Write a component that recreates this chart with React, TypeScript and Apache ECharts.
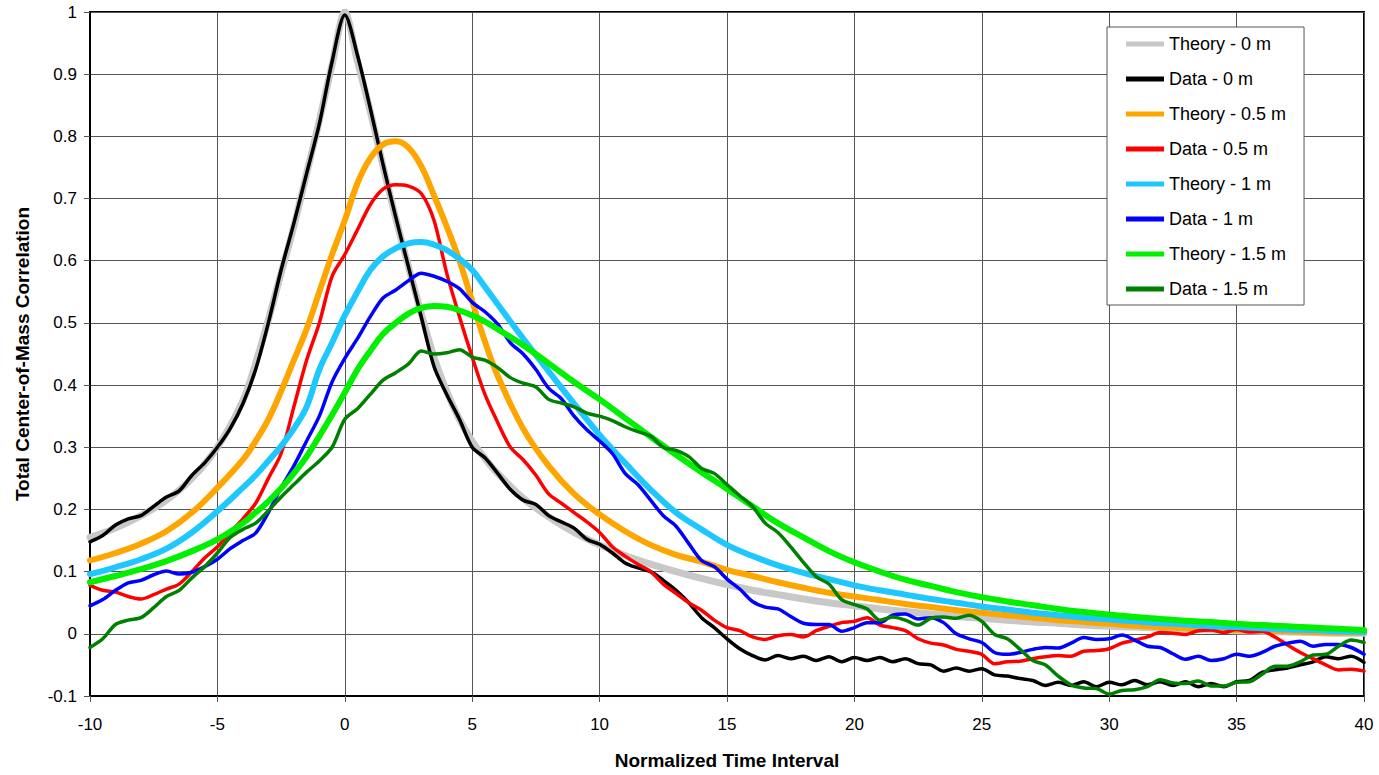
import React, { useEffect, useRef } from "react";
import * as echarts from "echarts";

// x positions for theory curves
const theoryX = [
  -10, -9, -8, -7, -6, -5, -4, -3.5, -3, -2.5, -2, -1.5, -1, -0.5, 0, 0.5, 1, 1.5, 2, 2.5, 3, 3.5, 4, 4.5, 5, 5.5, 6,
  7, 8, 9, 10, 11, 12, 13, 14, 15, 16, 17, 18, 19, 20, 21, 22, 23, 24, 25, 26, 27, 28, 29, 30, 31, 32, 33, 34, 35, 36,
  37, 38, 39, 40,
];

const theory0 = [
  0.155, 0.17, 0.19, 0.215, 0.25, 0.3, 0.375, 0.435, 0.505, 0.58, 0.655, 0.74, 0.825, 0.915, 1.0, 0.92, 0.84, 0.752,
  0.668, 0.59, 0.515, 0.445, 0.39, 0.345, 0.31, 0.282, 0.258,
  0.218, 0.188, 0.163, 0.143, 0.126, 0.112, 0.1, 0.089, 0.079, 0.07, 0.063, 0.056, 0.05, 0.045, 0.04, 0.036, 0.032,
  0.028, 0.025, 0.022, 0.019, 0.017, 0.014, 0.012, 0.011, 0.009, 0.008, 0.006, 0.005, 0.004, 0.003, 0.002, 0.001, 0.001,
];

const theory05 = [
  0.118, 0.13, 0.145, 0.165, 0.195, 0.235, 0.28, 0.31, 0.345, 0.39, 0.44, 0.49, 0.55, 0.61, 0.665, 0.725, 0.765, 0.787,
  0.792, 0.782, 0.752, 0.705, 0.655, 0.6, 0.535, 0.47, 0.415,
  0.33, 0.27, 0.225, 0.192, 0.165, 0.143, 0.127, 0.116, 0.103, 0.093, 0.083, 0.074, 0.066, 0.06, 0.054, 0.048, 0.043,
  0.038, 0.034, 0.03, 0.026, 0.022, 0.019, 0.016, 0.013, 0.011, 0.009, 0.008, 0.006, 0.005, 0.004, 0.003, 0.002, 0.002,
];

const theory1 = [
  0.096, 0.107, 0.12, 0.137, 0.163, 0.197, 0.235, 0.255, 0.278, 0.302, 0.33, 0.365, 0.425, 0.468, 0.512, 0.55, 0.585,
  0.607, 0.62, 0.628, 0.63, 0.626, 0.617, 0.603, 0.585, 0.558, 0.53,
  0.475, 0.422, 0.37, 0.32, 0.275, 0.232, 0.195, 0.168, 0.143, 0.125, 0.11, 0.098, 0.088, 0.078, 0.07, 0.063, 0.056,
  0.05, 0.044, 0.039, 0.034, 0.03, 0.026, 0.023, 0.02, 0.017, 0.015, 0.012, 0.011, 0.009, 0.007, 0.006, 0.004, 0.003,
];

const theory15 = [
  0.083, 0.093, 0.104, 0.117, 0.133, 0.152, 0.178, 0.195, 0.213, 0.234, 0.258, 0.285, 0.318, 0.352, 0.388, 0.425, 0.455,
  0.482, 0.5, 0.515, 0.524, 0.527, 0.526, 0.52, 0.512, 0.502, 0.49,
  0.464, 0.435, 0.405, 0.377, 0.347, 0.317, 0.288, 0.26, 0.233, 0.205, 0.178, 0.155, 0.133, 0.115, 0.1, 0.087, 0.077,
  0.067, 0.059, 0.052, 0.046, 0.04, 0.035, 0.031, 0.027, 0.024, 0.021, 0.019, 0.016, 0.014, 0.012, 0.01, 0.008, 0.006,
];

// x positions for measured data
const dataX = [
  -10, -9.5, -9, -8.5, -8, -7.5, -7, -6.5, -6, -5.5, -5, -4.5, -4, -3.5, -3, -2.5, -2, -1.5, -1, -0.5,
  0, 0.5, 1, 1.5, 2, 2.5, 3, 3.5, 4, 4.5, 5, 5.5, 6, 6.5, 7, 7.5, 8, 8.5, 9, 9.5,
  10, 10.5, 11, 11.5, 12, 12.5, 13, 13.5, 14, 14.5, 15, 15.5, 16, 16.5, 17, 17.5, 18, 18.5, 19, 19.5,
  20, 20.5, 21, 21.5, 22, 22.5, 23, 23.5, 24, 24.5, 25, 25.5, 26, 26.5, 27, 27.5, 28, 28.5, 29, 29.5,
  30, 30.5, 31, 31.5, 32, 32.5, 33, 33.5, 34, 34.5, 35, 35.5, 36, 36.5, 37, 37.5, 38, 38.5, 39, 39.5, 40,
];

const data0 = [
  0.148, 0.158, 0.175, 0.185, 0.19, 0.205, 0.22, 0.23, 0.255, 0.275, 0.3, 0.33, 0.37, 0.425, 0.5, 0.585, 0.66, 0.74, 0.82, 0.92,
  0.995, 0.93, 0.845, 0.755, 0.67, 0.59, 0.51, 0.43, 0.385, 0.345, 0.3, 0.283, 0.258, 0.232, 0.215, 0.208, 0.19, 0.18, 0.17, 0.152,
  0.144, 0.13, 0.114, 0.106, 0.1, 0.086, 0.07, 0.05, 0.026, 0.01, -0.008, -0.024, -0.035, -0.042, -0.035, -0.04, -0.036, -0.043, -0.037, -0.045,
  -0.038, -0.043, -0.038, -0.045, -0.04, -0.048, -0.05, -0.06, -0.055, -0.06, -0.056, -0.066, -0.068, -0.072, -0.075, -0.083, -0.078, -0.083, -0.077, -0.085,
  -0.078, -0.082, -0.075, -0.082, -0.077, -0.083, -0.077, -0.085, -0.08, -0.085, -0.077, -0.075, -0.062, -0.058, -0.055, -0.05, -0.045, -0.037, -0.04, -0.036, -0.046,
];

const data05 = [
  0.078, 0.07, 0.067, 0.06, 0.056, 0.063, 0.072, 0.08, 0.1, 0.122, 0.14, 0.163, 0.185, 0.21, 0.25, 0.29, 0.365, 0.44, 0.5, 0.575,
  0.61, 0.65, 0.69, 0.715, 0.722, 0.72, 0.708, 0.665, 0.58, 0.51, 0.445, 0.385, 0.34, 0.3, 0.28, 0.255, 0.225, 0.21, 0.195, 0.18,
  0.163, 0.14, 0.125, 0.112, 0.1, 0.08, 0.065, 0.05, 0.038, 0.022, 0.01, 0.005, -0.005, -0.009, -0.003, -0.001, -0.005, 0.005, 0.012, 0.018,
  0.02, 0.026, 0.014, 0.01, 0.005, -0.008, -0.015, -0.018, -0.025, -0.028, -0.033, -0.048, -0.045, -0.044, -0.04, -0.037, -0.035, -0.036, -0.028, -0.027,
  -0.024, -0.015, -0.01, -0.005, 0.002, 0.001, -0.001, 0.005, 0.006, 0.002, 0.007, 0.003, 0.004, -0.005, -0.018, -0.03, -0.04, -0.05, -0.058, -0.057, -0.06,
];

const data1 = [
  0.045, 0.055, 0.07, 0.082, 0.086, 0.095, 0.101, 0.096, 0.099, 0.108, 0.12, 0.137, 0.15, 0.162, 0.195, 0.235, 0.27, 0.31, 0.35, 0.405,
  0.443, 0.475, 0.51, 0.54, 0.553, 0.568, 0.58, 0.575, 0.567, 0.555, 0.533, 0.518, 0.498, 0.468, 0.45, 0.425, 0.395, 0.378, 0.35, 0.328,
  0.31, 0.29, 0.258, 0.24, 0.215, 0.19, 0.173, 0.145, 0.118, 0.108, 0.088, 0.072, 0.052, 0.043, 0.04, 0.028, 0.017, 0.015, 0.015, 0.004,
  0.01, 0.018, 0.018, 0.03, 0.032, 0.024, 0.026, 0.018, 0.0, -0.008, -0.014, -0.03, -0.033, -0.03, -0.025, -0.022, -0.023, -0.015, -0.006, -0.009,
  -0.008, -0.002, -0.01, -0.02, -0.022, -0.032, -0.041, -0.036, -0.043, -0.04, -0.033, -0.036, -0.03, -0.02, -0.015, -0.012, -0.02, -0.017, -0.017, -0.022, -0.033,
];

const data15 = [
  -0.022, -0.008, 0.015, 0.022, 0.026, 0.042, 0.06, 0.07, 0.09, 0.108, 0.13, 0.155, 0.168, 0.178, 0.198, 0.22, 0.24, 0.26, 0.278, 0.3,
  0.345, 0.362, 0.385, 0.408, 0.42, 0.434, 0.455, 0.45, 0.452, 0.457, 0.445, 0.44, 0.428, 0.412, 0.403, 0.397, 0.377, 0.371, 0.365, 0.355,
  0.35, 0.343, 0.333, 0.325, 0.318, 0.3, 0.295, 0.285, 0.266, 0.258, 0.24, 0.222, 0.205, 0.178, 0.163, 0.14, 0.115, 0.092, 0.08, 0.055,
  0.047, 0.04, 0.022, 0.027, 0.022, 0.014, 0.025, 0.027, 0.025, 0.03, 0.02, -0.001, -0.008, -0.025, -0.043, -0.05, -0.068, -0.082, -0.087, -0.088,
  -0.097, -0.091, -0.09, -0.085, -0.074, -0.079, -0.08, -0.076, -0.084, -0.084, -0.078, -0.077, -0.065, -0.052, -0.052, -0.045, -0.034, -0.033, -0.02, -0.01, -0.014,
];

const xTicks = { min: -10, max: 40, interval: 5 };
const yTicks = { min: -0.1, max: 1, interval: 0.1 };

const FONT = "'Liberation Sans', Arial, Helvetica, sans-serif";

function zip(xs: number[], ys: number[]) {
  return xs.map((x, i) => [x, ys[i]]);
}

export default function App() {
  const ref = useRef<HTMLDivElement>(null);
  useEffect(() => {
    if (!ref.current) return;
    const chart = echarts.init(ref.current, undefined, { renderer: "svg" });
    const mk = (name: string, xs: number[], ys: number[], color: string, width: number, smooth: number) => ({
      name,
      type: "line",
      data: zip(xs, ys),
      showSymbol: false,
      symbol: "none",
      smooth,
      lineStyle: { color, width, cap: "round", join: "round" },
      itemStyle: { color },
      emphasis: { disabled: true },
    });
    const legendNames = [
      "Theory - 0 m",
      "Data - 0 m",
      "Theory - 0.5 m",
      "Data - 0.5 m",
      "Theory - 1 m",
      "Data - 1 m",
      "Theory - 1.5 m",
      "Data - 1.5 m",
    ];
    chart.setOption({
      animation: false,
      backgroundColor: "#ffffff",
      textStyle: { fontFamily: FONT },
      grid: {
        left: 90,
        right: 15,
        top: 12,
        bottom: 78,
        show: true,
        borderColor: "#000",
        borderWidth: 2,
        backgroundColor: "transparent",
      },
      legend: {
        orient: "vertical",
        left: 1107,
        top: 27,
        padding: [8, 18, 7, 19],
        itemWidth: 38,
        itemHeight: 5,
        itemGap: 17,
        icon: "rect",
        backgroundColor: "#fff",
        borderColor: "#555",
        borderWidth: 1,
        borderRadius: 0,
        textStyle: { fontSize: 18, color: "#000", fontFamily: FONT, padding: [0, 0, 0, 0] },
        data: legendNames,
      },
      xAxis: {
        type: "value",
        min: xTicks.min,
        max: xTicks.max,
        interval: xTicks.interval,
        name: "Normalized Time Interval",
        nameLocation: "middle",
        nameGap: 55,
        nameTextStyle: { fontSize: 19, fontWeight: "bold", color: "#000", fontFamily: FONT },
        axisLine: { show: true, onZero: false, lineStyle: { color: "#000", width: 2 } },
        axisTick: { show: true, length: 6, lineStyle: { color: "#555", width: 1 } },
        axisLabel: { fontSize: 17, color: "#000", margin: 20, fontFamily: FONT },
        splitLine: { show: true, lineStyle: { color: "#555", width: 1 } },
      },
      yAxis: {
        type: "value",
        min: yTicks.min,
        max: yTicks.max,
        interval: yTicks.interval,
        name: "Total Center-of-Mass Correlation",
        nameLocation: "middle",
        nameGap: 58,
        nameTextStyle: { fontSize: 19, fontWeight: "bold", color: "#000", fontFamily: FONT },
        axisLine: { show: true, onZero: false, lineStyle: { color: "#000", width: 2 } },
        axisTick: { show: true, length: 6, lineStyle: { color: "#555", width: 1 } },
        axisLabel: {
          fontSize: 17,
          color: "#000",
          margin: 13,
          fontFamily: FONT,
          formatter: (v: number) => String(Math.round(v * 10) / 10),
        },
        splitLine: { show: true, lineStyle: { color: "#555", width: 1 } },
      },
      series: [
        mk("Theory - 0 m", theoryX, theory0, "#c8c8c8", 7, 0.3),
        mk("Data - 0 m", dataX, data0, "#000000", 3.5, 0.3),
        mk("Theory - 0.5 m", theoryX, theory05, "#ffa500", 6, 0.4),
        mk("Data - 0.5 m", dataX, data05, "#ff0000", 3.5, 0.3),
        mk("Theory - 1 m", theoryX, theory1, "#1ec8ff", 6, 0.4),
        mk("Data - 1 m", dataX, data1, "#0000ff", 3.5, 0.3),
        mk("Theory - 1.5 m", theoryX, theory15, "#00f000", 6, 0.4),
        mk("Data - 1.5 m", dataX, data15, "#008000", 3.5, 0.3),
      ],
    });
    return () => chart.dispose();
  }, []);
  return (
    <div
      ref={ref}
      style={{ position: "fixed", left: 0, top: 0, width: 1379, height: 775, background: "#fff" }}
    />
  );
}
